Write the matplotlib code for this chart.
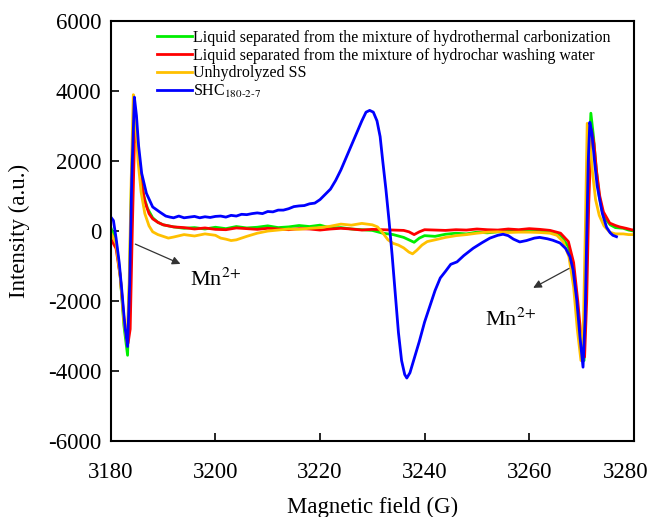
import matplotlib
matplotlib.use("Agg")
import matplotlib.pyplot as plt
from matplotlib.transforms import ScaledTranslation

plt.rcParams['font.family'] = ['Liberation Serif', 'DejaVu Serif']
plt.rcParams['mathtext.fontset'] = 'stix'
plt.rcParams['axes.unicode_minus'] = False

# --- data ---
green_x = [3180, 3181, 3181.8, 3182.5, 3183.2, 3183.6, 3184.0, 3184.5, 3185.0, 3185.6, 3186.3, 3187,
           3188, 3189, 3190, 3192, 3194, 3196, 3198, 3200, 3202, 3204, 3206, 3208, 3210, 3212, 3214,
           3216, 3218, 3220, 3222, 3224, 3226, 3228, 3230, 3232, 3234, 3236, 3237, 3238, 3239, 3240,
           3242, 3244, 3246, 3248, 3250, 3252, 3254, 3256, 3258, 3260, 3262, 3264, 3266, 3267.5,
           3268.5, 3269.3, 3269.9, 3270.5, 3270.9, 3271.3, 3271.8, 3272.3, 3272.8, 3273.4, 3274,
           3274.8, 3275.5, 3276.5, 3278, 3279, 3280]
green_y = [100, -300, -1300, -2700, -3550, -1200, 1800, 3500, 2800, 1700, 1000, 650,
           380, 250, 180, 120, 80, 100, 60, 110, 70, 130, 90, 110, 150, 100, 120,
           160, 130, 170, 90, 100, 60, 40, 20, -60, -100, -180, -250, -320, -200, -130,
           -150, -90, -60, -80, -30, -50, -20, -10, 20, 30, 20, -20, -120, -450,
           -1200, -2400, -3400, -3700, -1500, 1500, 3370, 2700, 1800, 1000, 550,
           310, 180, 100, 80, 30, 0]

red_x = [3180, 3181, 3181.8, 3182.5, 3183.3, 3183.7, 3184.1, 3184.5, 3184.8, 3185.2, 3185.8, 3186.5,
         3187.3, 3188, 3189, 3190, 3192, 3194, 3196, 3198, 3200, 3202, 3204, 3206, 3208, 3210, 3212,
         3214, 3216, 3218, 3220, 3222, 3224, 3226, 3228, 3230, 3232, 3234, 3236, 3237, 3238, 3239,
         3240, 3242, 3244, 3246, 3248, 3250, 3252, 3254, 3256, 3258, 3260, 3262, 3264, 3266, 3267.5,
         3268.5, 3269.3, 3269.9, 3270.6, 3271.0, 3271.4, 3271.9, 3272.4, 3272.9, 3273.5, 3274.2,
         3275.4, 3276.5, 3277.3, 3278.5, 3279.8, 3280]
red_y = [-220, -500, -1300, -2500, -3200, -2800, 0, 2500, 2950, 2300, 1400, 850,
         500, 350, 250, 180, 120, 100, 60, 90, 50, 40, 90, 70, 50, 80, 60,
         40, 70, 60, 30, 60, 80, 60, 30, 50, 40, 30, 20, -20, -100, -20,
         40, 30, 20, 40, 30, 60, 40, 30, 60, 40, 70, 50, 20, -60, -300,
         -900, -2000, -3000, -3600, -2000, 800, 2900, 2500, 1700, 1000, 550,
         230, 160, 120, 80, 30, 40]

yellow_x = [3180, 3181, 3181.8, 3182.5, 3183.1, 3183.5, 3183.9, 3184.3, 3184.7, 3185.2, 3185.8, 3186.5,
            3187.3, 3188, 3189, 3190, 3191, 3192, 3194, 3196, 3198, 3200, 3201, 3202, 3203, 3204,
            3206, 3208, 3210, 3212, 3214, 3216, 3218, 3220, 3222, 3224, 3226, 3228, 3230, 3231,
            3232, 3233, 3234, 3235, 3236, 3237, 3237.7, 3238.5, 3239.5, 3240.5, 3242, 3244, 3246,
            3248, 3250, 3252, 3254, 3256, 3258, 3260, 3262, 3264, 3265.3, 3266.5, 3267.6, 3268.5,
            3269.2, 3269.9, 3270.4, 3270.8, 3271.1, 3271.6, 3272.1, 3272.7, 3273.4, 3274.3, 3275.4,
            3276.5, 3278, 3279, 3280]
yellow_y = [-50, -350, -1300, -2600, -3200, -1500, 1500, 3900, 3300, 2000, 1100, 500,
            150, -20, -100, -150, -200, -170, -100, -140, -80, -120, -200, -230, -270, -250,
            -150, -60, 0, 30, 60, 50, 80, 100, 140, 200, 170, 220, 180, 120,
            -50, -250, -350, -400, -480, -600, -650, -550, -400, -300, -250, -180, -130,
            -100, -60, -30, -20, -40, -30, -30, -40, -60, -120, -300, -730, -1600,
            -2800, -3700, -2500, 500, 3080, 2600, 1700, 900, 450, 150, -30,
            -80, -80, -100, -100]

blue_x = [3180, 3180.5, 3181, 3181.6, 3182.1, 3182.7, 3183.2, 3183.6, 3184.0, 3184.5, 3184.9, 3185.3,
          3185.9, 3186.8, 3188, 3189.4, 3190.5, 3191.3, 3192, 3193, 3194, 3195, 3196, 3197, 3198,
          3199, 3200, 3201, 3202, 3203, 3204, 3205, 3206, 3207, 3208, 3209, 3210, 3211, 3212, 3213,
          3214, 3215, 3216, 3217, 3218, 3219, 3220, 3221, 3222, 3223, 3224, 3225, 3226, 3227, 3228,
          3228.8, 3229.5, 3230.2, 3230.9, 3231.5, 3232.0, 3232.6, 3233.2, 3233.8, 3234.4, 3235,
          3235.6, 3236.2, 3236.6, 3237.2, 3238, 3239, 3240, 3241, 3242, 3243, 3244, 3245, 3246.2,
          3247.5, 3249.3, 3251, 3252.5, 3254, 3255, 3256, 3257, 3258.2, 3259.5, 3261, 3262, 3263.5,
          3264.5, 3265.9, 3267, 3267.8, 3268.4, 3269.1, 3269.7, 3270.3, 3270.7, 3271.0, 3271.3,
          3271.6, 3272.0, 3272.5, 3273.0, 3273.5, 3274.0, 3274.8, 3275.5, 3276.0, 3276.7]
blue_y = [400, 300, -200, -900, -1700, -2740, -3300, -1500, 1500, 3830, 3300, 2450,
          1650, 1080, 690, 540, 430, 400, 380, 430, 380, 400, 420, 380, 410,
          390, 420, 430, 400, 450, 430, 480, 470, 500, 520, 500, 560, 550, 600, 600,
          640, 700, 720, 730, 780, 800, 900, 1050, 1200, 1450, 1750, 2100, 2450, 2800, 3150,
          3400, 3450, 3400, 3150, 2700, 2000, 1200, 300, -700, -1800, -2900,
          -3700, -4100, -4200, -4050, -3650, -3150, -2600, -2150, -1700, -1340, -1150, -950, -880,
          -700, -490, -330, -200, -120, -90, -130, -230, -310, -270, -200, -180, -220,
          -260, -340, -500, -730, -1110, -1970, -3000, -3890, -2500, -200, 2000,
          3110, 2800, 2000, 1300, 890, 500, 110, -50, -120, -160]

labels = ['Liquid separated from the mixture of hydrothermal carbonization',
          'Liquid separated from the mixture of hydrochar washing water',
          'Unhydrolyzed SS',
          r'SHC$_{\mathrm{180\text{-}2\text{-}7}}$']
colors = ['#00ee00', '#ff0000', '#ffc000', '#0000ff']

fig = plt.figure(figsize=(6.52, 5.17), dpi=100)
ax = fig.add_axes([0.170, 0.147, 0.802, 0.812])

series = [(green_x, green_y), (red_x, red_y), (yellow_x, yellow_y), (blue_x, blue_y)]
for (x, y), c, lab in zip(series, colors, labels):
    ax.plot(x, y, color=c, lw=2, label=lab)

ax.set_xlim(3180, 3280)
ax.set_ylim(-6000, 6000)
ax.set_xticks([3180, 3200, 3220, 3240, 3260, 3280])
ax.set_yticks([-6000, -4000, -2000, 0, 2000, 4000, 6000])
ax.tick_params(direction='in', length=6, width=1.2, labelsize=16.5)
ax.tick_params(axis='x', pad=15)
ax.tick_params(axis='y', pad=7)
for s in ax.spines.values():
    s.set_linewidth(1.5)

# last x label sits a bit left of its tick, as in the original
last = ax.get_xticklabels()[-1]
last.set_transform(last.get_transform() + ScaledTranslation(-8 / 100, 0, fig.dpi_scale_trans))

ax.set_xlabel('Magnetic field (G)', fontsize=16.5)
ax.set_ylabel('Intensity (a.u.)', fontsize=16.5)
ax.xaxis.set_label_coords(0.5, -0.134)
ax.yaxis.set_label_coords(-0.155, 0.5)

# Mn2+ arrows
ax.annotate('', xy=(3193.8, -970), xytext=(3184.2, -340),
            arrowprops=dict(arrowstyle='-|>', color='#333333', lw=0.9, mutation_scale=12))
ax.text(3195.1, -1400, r'Mn$^{2\!+}$', fontsize=16, va='center')
ax.annotate('', xy=(3260.3, -1660), xytext=(3268.1, -1030),
            arrowprops=dict(arrowstyle='-|>', color='#333333', lw=0.9, mutation_scale=12))
ax.text(3251.5, -2540, r'Mn$^{2\!+}$', fontsize=16, va='center')

ax.legend(loc='upper left', bbox_to_anchor=(0.071, 1.0), frameon=False, fontsize=11.5,
          handlelength=2.2, handletextpad=0.1, labelspacing=0.1, borderaxespad=0.15)

fig.savefig('out.png', dpi=100)
